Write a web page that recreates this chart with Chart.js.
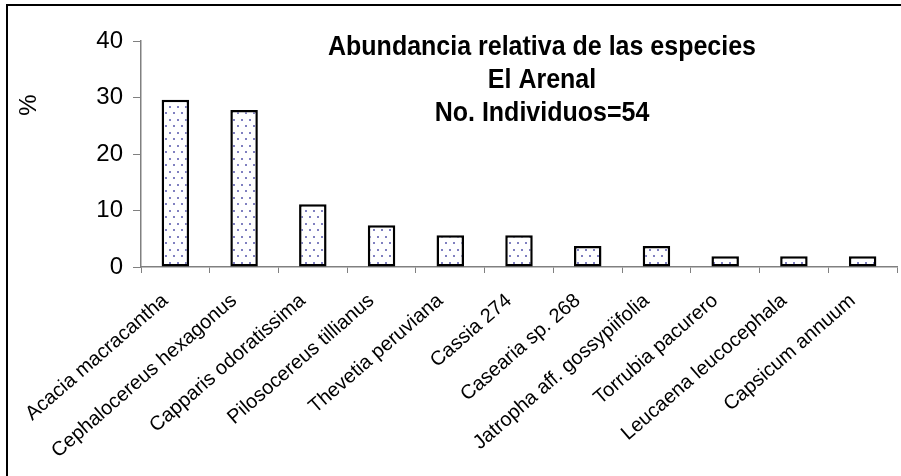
<!DOCTYPE html>
<html>
<head>
<meta charset="utf-8">
<script src="https://cdn.jsdelivr.net/npm/chart.js@4/dist/chart.umd.min.js"></script>
<style>
  body { margin: 0; background: #fff; }
  #wrap { width: 901px; height: 476px; position: relative; }
</style>
</head>
<body>
<div id="wrap"><canvas id="chart" width="901" height="476"></canvas></div>
<script>
// ---------- Datos ----------
const species = [
  'Acacia macracantha', 'Cephalocereus hexagonus', 'Capparis odoratissima',
  'Pilosocereus tillianus', 'Thevetia peruviana', 'Cassia 274', 'Casearia sp. 268',
  'Jatropha aff. gossypiifolia', 'Torrubia pacurero', 'Leucaena leucocephala', 'Capsicum annuum'
];
const abundance = [29.6, 27.8, 11.1, 7.4, 5.6, 5.6, 3.7, 3.7, 1.9, 1.9, 1.9];
const titleLines = ['Abundancia relativa de las especies', 'El Arenal', 'No. Individuos=54'];
const yTicks = [0, 10, 20, 30, 40];
const yLabel = '%';

const FONT = '"Liberation Sans", Arial, sans-serif';

// ---------- Trama punteada ----------
function dotPattern() {
  const c = document.createElement('canvas');
  c.width = 8; c.height = 13;
  const g = c.getContext('2d');
  g.fillStyle = '#fff';
  g.fillRect(0, 0, 8, 13);
  g.fillStyle = '#8080c0';
  g.fillRect(1, 2, 2, 2);
  g.fillRect(5, 8, 2, 2);
  return g.createPattern(c, 'repeat');
}

// ---------- Marco, título y etiqueta del eje ----------
const decorations = {
  id: 'decorations',
  afterDraw(chart) {
    const ctx = chart.ctx, area = chart.chartArea;
    ctx.save();
    // marco exterior
    ctx.strokeStyle = '#000';
    ctx.lineWidth = 2;
    ctx.beginPath();
    ctx.moveTo(7, 476);
    ctx.lineTo(7, 5);
    ctx.lineTo(901, 5);
    ctx.stroke();

    // título (letra algo más alta, como en Excel)
    ctx.fillStyle = '#000';
    ctx.font = 'bold 25px ' + FONT;
    ctx.textAlign = 'center';
    ctx.textBaseline = 'alphabetic';
    const cx = area.left + 401;
    titleLines.forEach((t, i) => {
      ctx.save();
      ctx.translate(cx, area.top + 14 + i * 33);
      ctx.scale(1, 1.1);
      ctx.fillText(t, 0, 0);
      ctx.restore();
    });

    // %
    ctx.font = '24px ' + FONT;
    ctx.translate(29, 105);
    ctx.rotate(-Math.PI / 2);
    ctx.textBaseline = 'middle';
    ctx.fillText(yLabel, 0, 0);
    ctx.restore();
  }
};

const ctx = document.getElementById('chart').getContext('2d');
new Chart(ctx, {
  type: 'bar',
  data: {
    labels: species,
    datasets: [{
      data: abundance,
      backgroundColor: dotPattern(),
      borderColor: '#000',
      borderWidth: 2.5,
      borderSkipped: false,
      categoryPercentage: 1,
      barPercentage: 0.4
    }]
  },
  options: {
    responsive: false,
    animation: false,
    layout: { padding: { left: 0, top: 41, right: 4, bottom: 0 } },
    plugins: { legend: { display: false }, tooltip: { enabled: false }, title: { display: false } },
    scales: {
      x: {
        grid: { display: true, drawOnChartArea: false, tickLength: 6, color: '#808080', offset: true },
        border: { color: '#808080', width: 1.5 },
        ticks: {
          color: '#000', font: { family: FONT, size: 20 },
          minRotation: 41, maxRotation: 41, autoSkip: false, padding: 16, labelOffset: -10
        },
        afterFit: s => { s.height = 209; }
      },
      y: {
        min: 0, max: 40,
        afterBuildTicks: s => { s.ticks = yTicks.map(v => ({ value: v })); },
        grid: { display: true, drawOnChartArea: false, tickLength: 8, color: '#808080' },
        border: { color: '#808080', width: 1.5 },
        ticks: { color: '#000', font: { family: FONT, size: 24 }, padding: 10 },
        afterFit: s => { s.width = 141; }
      }
    }
  },
  plugins: [decorations]
});
</script>
</body>
</html>
